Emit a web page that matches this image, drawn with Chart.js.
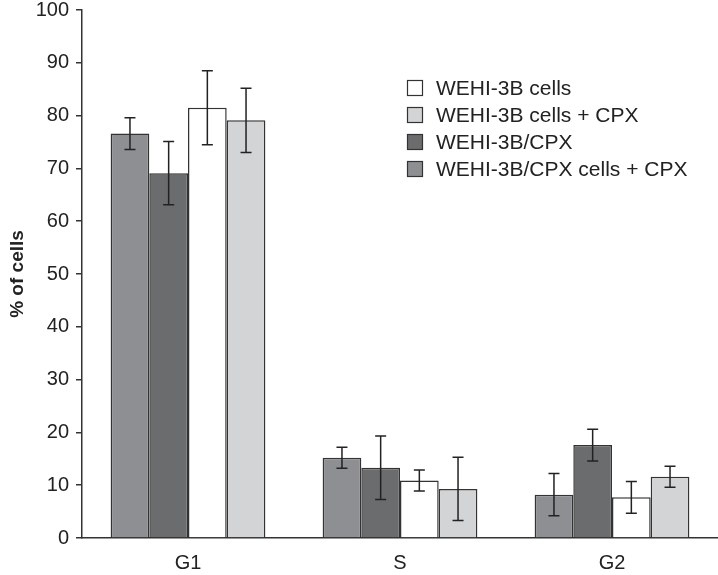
<!DOCTYPE html>
<html>
<head>
<meta charset="utf-8">
<script src="https://cdn.jsdelivr.net/npm/chart.js@4.4.0/dist/chart.umd.min.js"></script>
<style>
  html, body { margin: 0; padding: 0; background: #fff; }
  #wrap { width: 718px; height: 575px; }
</style>
</head>
<body>
<div id="wrap"><canvas id="cellcycle"></canvas></div>
<script>
// phases on the x axis
const phases = ["G1", "S", "G2"];

// series names, in the order the bars are drawn
const seriesNames = [
  "WEHI-3B/CPX cells + CPX",
  "WEHI-3B/CPX",
  "WEHI-3B cells",
  "WEHI-3B cells + CPX"
];

// mean % of cells per phase
const cpxCellsCpx = [76.6, 15.2, 8.2];
const cpxCells = [69.1, 13.3, 17.6];
const wehiCells = [81.5, 10.9, 7.7];
const wehiCellsCpx = [79.1, 9.3, 11.6];

// error bar half-widths (SD)
const cpxCellsCpxErr = [3.0, 2.0, 4.0];
const cpxCellsErr = [6.0, 6.0, 3.0];
const wehiCellsErr = [7.0, 2.0, 3.0];
const wehiCellsCpxErr = [6.1, 6.0, 2.0];

const yTicks = [0, 10, 20, 30, 40, 50, 60, 70, 80, 90, 100];

// legend shows the series in a different order than the bars
const legendOrder = [2, 3, 1, 0];

const fills = ["#8e8f93", "#6b6c6e", "#ffffff", "#d3d4d6"];
const values = [cpxCellsCpx, cpxCells, wehiCells, wehiCellsCpx];
const errors = [cpxCellsCpxErr, cpxCellsErr, wehiCellsErr, wehiCellsCpxErr];

const FONT = "'Liberation Sans', Arial, sans-serif";

const errorBars = {
  id: "errorBars",
  afterDatasetsDraw(chart) {
    const ctx = chart.ctx;
    const y = chart.scales.y;
    ctx.save();
    ctx.strokeStyle = "#222";
    ctx.lineWidth = 1.5;
    chart.data.datasets.forEach((ds, i) => {
      const meta = chart.getDatasetMeta(i);
      meta.data.forEach((bar, j) => {
        const v = ds.data[j], e = ds.errors[j];
        const top = y.getPixelForValue(v + e);
        const bot = y.getPixelForValue(v - e);
        const x = bar.x;
        ctx.beginPath();
        ctx.moveTo(x, top); ctx.lineTo(x, bot);
        ctx.moveTo(x - 5.5, top); ctx.lineTo(x + 5.5, top);
        ctx.moveTo(x - 5.5, bot); ctx.lineTo(x + 5.5, bot);
        ctx.stroke();
      });
    });
    ctx.restore();
  }
};

const boxLegend = {
  id: "boxLegend",
  afterDraw(chart) {
    const ctx = chart.ctx;
    ctx.save();
    ctx.font = "21px " + FONT;
    ctx.textBaseline = "middle";
    legendOrder.forEach((idx, row) => {
      const ds = chart.data.datasets[idx];
      const cy = 88 + row * 27;
      ctx.fillStyle = ds.backgroundColor;
      ctx.fillRect(407.5, cy - 7.5, 15, 15);
      ctx.strokeStyle = "#333";
      ctx.lineWidth = 1.2;
      ctx.strokeRect(407.5, cy - 7.5, 15, 15);
      ctx.fillStyle = "#222";
      ctx.fillText(ds.label, 436, cy + 1);
    });
    ctx.restore();
  }
};

new Chart(document.getElementById("cellcycle"), {
  type: "bar",
  data: {
    labels: phases,
    datasets: seriesNames.map((name, i) => ({
      label: name,
      data: values[i],
      errors: errors[i],
      backgroundColor: fills[i],
      borderColor: "#333",
      borderWidth: 1.5,
      borderSkipped: "bottom",
      categoryPercentage: 0.73,
      barPercentage: 1.0
    }))
  },
  options: {
    responsive: true,
    maintainAspectRatio: false,
    animation: false,
    layout: { padding: { top: 10, right: 0, left: 0, bottom: 0 } },
    plugins: {
      legend: { display: false },
      tooltip: { enabled: false }
    },
    scales: {
      x: {
        grid: { display: false },
        border: { color: "#333", width: 1.5 },
        ticks: {
          color: "#222",
          padding: 5,
          font: { family: FONT, size: 20 }
        },
        afterFit(scale) { scale.height = 37; }
      },
      y: {
        min: 0,
        max: 100,
        afterBuildTicks(scale) { scale.ticks = yTicks.map(v => ({ value: v })); },
        grid: {
          drawOnChartArea: false,
          drawTicks: true,
          tickLength: 6,
          color: "#333",
          lineWidth: 1.5
        },
        border: { color: "#333", width: 1.5 },
        ticks: {
          color: "#222",
          padding: 7,
          font: { family: FONT, size: 20 }
        },
        title: {
          display: true,
          text: "% of cells",
          color: "#222",
          padding: { top: 6, bottom: 0 },
          font: { family: FONT, size: 19, weight: "bold" }
        },
        afterFit(scale) {
          scale.width = 82;
          scale.paddingTop = 0;
          scale.paddingBottom = 0;
        }
      }
    }
  },
  plugins: [errorBars, boxLegend]
});
</script>
</body>
</html>
